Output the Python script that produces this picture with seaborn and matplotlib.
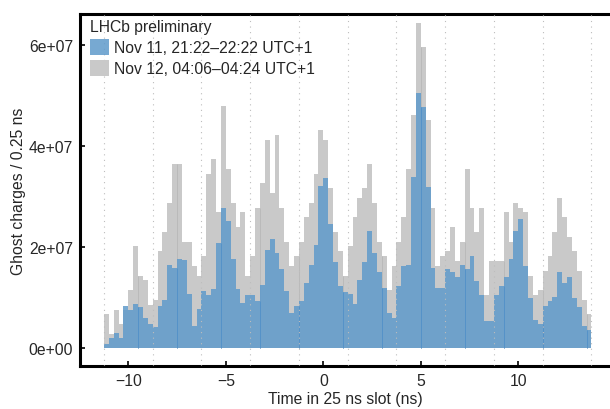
import numpy as np
import pandas as pd
import seaborn as sns
import matplotlib.pyplot as plt
from matplotlib.patches import Patch
from matplotlib.ticker import FuncFormatter

# binning of the time-in-slot histogram (ns)
bin_lo = -11.25
bin_w = 0.25

# ghost charges per 0.25 ns bin, in units of 1e7
nov11 = [0.085, 0.20, 0.30, 0.20, 0.84, 0.76, 0.88, 0.82, 0.60, 0.48,
         0.42, 0.84, 0.96, 1.65, 1.59, 1.77, 1.75, 1.08, 0.44, 0.78,
         1.13, 1.06, 1.17, 2.09, 2.78, 2.52, 1.77, 1.17, 0.90, 1.06,
         1.06, 0.94, 1.25, 1.95, 2.16, 1.89, 1.57, 1.13, 0.70, 0.84,
         0.94, 1.29, 1.65, 2.05, 3.21, 3.37, 2.46, 1.71, 1.23, 1.11,
         1.07, 0.88, 1.35, 1.71, 2.32, 1.89, 1.51, 1.19, 0.70, 0.60,
         1.23, 1.63, 1.65, 3.39, 5.06, 4.78, 3.19, 1.59, 1.19, 1.19,
         1.57, 1.51, 1.41, 1.65, 1.57, 1.83, 1.33, 1.06, 0.54, 0.54,
         1.06, 1.23, 1.41, 1.77, 2.32, 2.56, 1.63, 1.00, 0.56, 0.48,
         0.84, 0.94, 1.02, 1.51, 1.29, 1.41, 1.00, 0.82, 0.44, 0.36]
nov12 = [0.68, 0.28, 0.76, 0.48, 0.76, 1.15, 2.03, 1.43, 1.35, 0.86,
         0.96, 1.93, 2.30, 2.88, 3.65, 3.65, 2.10, 2.10, 1.63, 1.43,
         1.83, 3.45, 3.75, 2.70, 4.80, 3.55, 2.88, 2.40, 2.70, 1.43,
         1.83, 2.78, 3.27, 4.12, 3.07, 4.22, 2.78, 2.10, 1.63, 1.83,
         2.10, 2.60, 2.88, 3.45, 4.32, 4.12, 3.17, 2.30, 1.93, 1.43,
         2.02, 2.60, 2.97, 3.17, 3.65, 2.88, 2.10, 1.83, 1.15, 1.63,
         2.10, 2.60, 3.55, 4.62, 6.44, 5.97, 4.52, 2.78, 1.63, 1.83,
         1.93, 2.40, 1.73, 2.10, 3.55, 2.78, 2.30, 2.78, 1.06, 1.73,
         1.73, 1.73, 2.70, 2.10, 2.88, 2.78, 2.70, 1.43, 1.06, 1.15,
         1.53, 1.83, 2.30, 2.97, 2.60, 2.20, 1.93, 1.53, 0.96, 0.68]
labels = ["Nov 11, 21:22\u201322:22 UTC+1", "Nov 12, 04:06\u201304:24 UTC+1"]

# bin edges where the original drawing shows darker seams
seam_bins = [7, 15, 24, 32, 40, 49, 57, 65, 74, 82, 90, 99]

n = len(nov11)
edges = bin_lo + bin_w * np.arange(n + 1)
df = pd.DataFrame({
    "t": edges[:-1] + bin_w / 2,
    "nov11": np.array(nov11) * 1e7,
    "nov12": np.array(nov12) * 1e7,
})

blue = "#5f9acb"
grey = "#c9c9c9"
blue_alpha = 0.85

sns.set_style("ticks")
plt.rcParams["font.family"] = ["Liberation Sans", "DejaVu Sans"]
plt.rcParams["axes.unicode_minus"] = True

fig = plt.figure(figsize=(6.1, 4.1), dpi=100)
ax = fig.add_axes([80 / 610, 43 / 410, 530 / 610, 352 / 410])

hist_kw = dict(binwidth=bin_w, binrange=(edges[0], edges[-1]), linewidth=0, ax=ax)
sns.histplot(data=df, x="t", weights="nov12", color=grey, alpha=1.0,
             zorder=1, **hist_kw)
sns.histplot(data=df, x="t", weights="nov11", color=blue, alpha=blue_alpha,
             zorder=2, **hist_kw)

# faint seams inside the bars
for i in seam_bins:
    x = edges[i]
    g = min(df["nov12"].iloc[i - 1], df["nov12"].iloc[min(i, n - 1)])
    b = min(df["nov11"].iloc[i - 1], df["nov11"].iloc[min(i, n - 1)])
    ax.vlines(x, 0, g, color="#bababa", lw=0.7, zorder=1.5)
    ax.vlines(x, 0, b, color="#5592c8", lw=0.7, zorder=2.5)

# 2.5 ns grid of dotted lines
for x in np.arange(bin_lo, edges[-1] + 0.01, 2.5):
    ax.axvline(x, color="#bdbdbd", lw=0.8, ls=(0, (1, 4)), zorder=3)

ax.set_xlim(-12.48, 14.7)
ax.set_ylim(-0.35e7, 6.62e7)
ax.set_xticks([-10, -5, 0, 5, 10])
ax.set_yticks([0, 2e7, 4e7, 6e7])
ax.yaxis.set_major_formatter(FuncFormatter(lambda v, p: f"{v:.0e}"))

ax.set_xlabel("Time in 25 ns slot (ns)", fontsize=11.3, labelpad=2)
ax.set_ylabel("Ghost charges / 0.25 ns", fontsize=11.3, labelpad=2)
ax.tick_params(direction="in", length=3.5, width=1.2, labelsize=11.3, pad=5,
               color="black")

for s in ["left", "bottom", "top"]:
    ax.spines[s].set_linewidth(2.2)
    ax.spines[s].set_color("black")
ax.spines["right"].set_visible(False)

handles = [Patch(facecolor=blue, alpha=blue_alpha, lw=0),
           Patch(facecolor=grey, lw=0)]
leg = ax.legend(handles, labels, title="LHCb preliminary", loc="upper left",
                bbox_to_anchor=(0.008, 1.0),
                frameon=False, fontsize=11.3, title_fontsize=11.3,
                handlelength=1.2, handleheight=1.15, handletextpad=0.35,
                labelspacing=0.3, borderaxespad=0.25, borderpad=0.1,
                alignment="left")

fig.savefig("out.png", dpi=100)
